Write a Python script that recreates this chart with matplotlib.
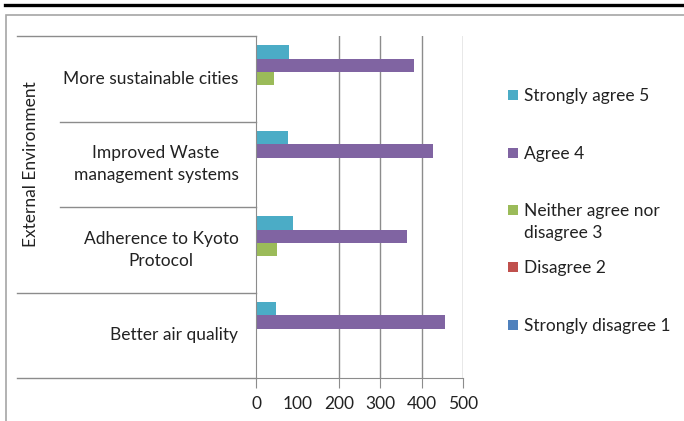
import numpy as np
import matplotlib
matplotlib.use("Agg")
import matplotlib.pyplot as plt
from matplotlib.lines import Line2D
from matplotlib.patches import Rectangle

plt.rcParams['font.family'] = ['Lato', 'DejaVu Sans']

# categories, top to bottom as drawn
categories = ["More sustainable cities",
              "Improved Waste\nmanagement systems",
              "Adherence to Kyoto\nProtocol",
              "Better air quality"]
group_label = "External Environment"

series_names = ["Strongly agree 5", "Agree 4", "Neither agree nor\ndisagree 3",
                "Disagree 2", "Strongly disagree 1"]
series_colors = ["#4BACC6", "#8064A2", "#9BBB59", "#C0504D", "#4F81BD"]

strongly_agree = [79, 77, 90, 48]
agree = [382, 428, 365, 456]
neither = [44, 0, 51, 0]
disagree = [0, 0, 0, 0]
strongly_disagree = [0, 0, 0, 0]
series_values = [strongly_agree, agree, neither, disagree, strongly_disagree]

xticks = [0, 100, 200, 300, 400, 500]
grid_at = [200, 300, 400, 500]

W, H = 684, 421
fig = plt.figure(figsize=(W / 100, H / 100), dpi=100)
grey = "#8c8c8c"
txt = "#222222"
fs = 12.5

# page rule and chart frame
fig.add_artist(Line2D([5 / W, 1], [1 - 5 / H, 1 - 5 / H], color="black", lw=2.4))
fig.add_artist(Rectangle((6 / W, -0.01), 1.0, 1 - 15 / H + 0.01, fill=False,
                         edgecolor="#a6a6a6", lw=1.2))

ax = fig.add_axes([256 / W, 1 - 378 / H, (463 - 256) / W, (378 - 36) / H])

n = len(categories)
ypos = np.arange(n)[::-1]          # top category at highest y
bar_h = 0.156
for k, (name, vals, col) in enumerate(zip(series_names, series_values, series_colors)):
    offs = (2 - k) * bar_h
    ax.barh(ypos + offs, vals, height=bar_h, color=col, label=name)

ax.set_xlim(0, 500)
ax.set_ylim(-0.5, n - 0.5)
for g in grid_at:
    ax.axvline(g, color=grey, lw=1, zorder=0)

for s in ["top", "right"]:
    ax.spines[s].set_visible(False)
ax.spines["left"].set_color(grey)
ax.spines["bottom"].set_color(grey)
ax.set_yticks([])
ax.set_xticks(xticks)
ax.set_xticklabels([str(t) for t in xticks], fontsize=fs, color=txt)
ax.tick_params(axis="x", length=7, color=grey, pad=6)
ax.xaxis.get_major_ticks()[1].tick1line.set_visible(False)

# multi-level category axis
trans = ax.get_yaxis_transform()
for i, lab in enumerate(categories):
    ax.text(-0.085, ypos[i], lab, transform=trans, ha="right", va="center",
            multialignment="center", fontsize=fs, color=txt, linespacing=1.45)
x_far = (17 - 256) / (463 - 256)
x_near = (60 - 256) / (463 - 256)
for yb in np.arange(n + 1) - 0.5:
    x0 = x_near if yb in (1.5, 2.5) else x_far
    ax.add_line(Line2D([x0, 0], [yb, yb], transform=trans, color=grey, lw=1,
                       clip_on=False))
ax.text((31 - 256) / (463 - 256), 2.0, group_label, transform=trans,
        rotation=90, ha="center", va="center", fontsize=fs, color=txt)

# legend, drawn by hand so the two-line entry keeps its marker on the first line
leg_y = [95, 153, 210, 267, 325]
for s, c, yc in zip(series_names, series_colors, leg_y):
    fig.add_artist(Rectangle((508 / W, 1 - (yc + 5) / H), 10 / W, 10 / H,
                             facecolor=c, edgecolor="none"))
    fig.text(524 / W, 1 - (yc - 7) / H, s, ha="left", va="top", fontsize=fs,
             color=txt, linespacing=1.45)

fig.savefig("out.png", dpi=100)
